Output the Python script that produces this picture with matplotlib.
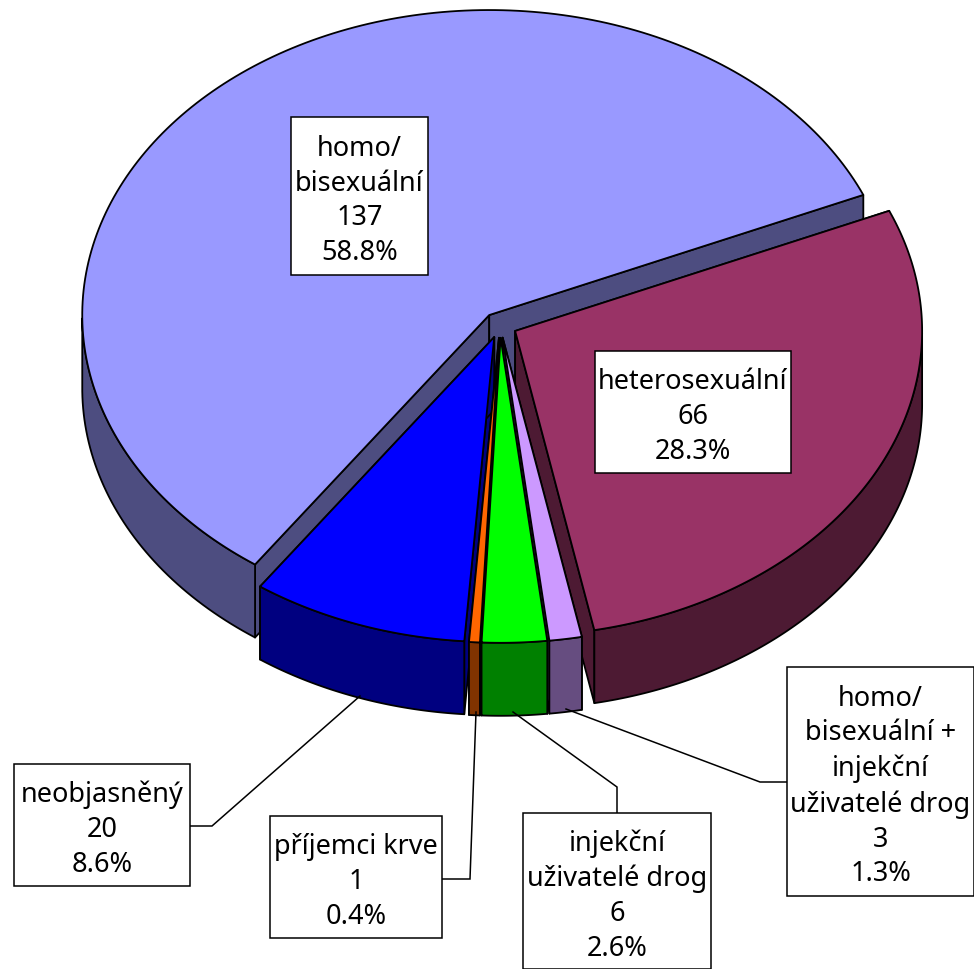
import numpy as np
import matplotlib
matplotlib.use('Agg')
import matplotlib.pyplot as plt
from matplotlib.patches import Polygon, Rectangle

# Data, in the order of the slices going clockwise from the homo/bisexual slice
categories = ['homo/\nbisexuální', 'heterosexuální', 'homo/\nbisexuální +\ninjekční\nuživatelé drog',
              'injekční\nuživatelé drog', 'příjemci krve', 'neobjasněný']
counts = [137, 66, 3, 6, 1, 20]
percents = ['58.8%', '28.3%', '1.3%', '2.6%', '0.4%', '8.6%']

top_colors = ['#9999FF', '#993366', '#CC99FF', '#00FF00', '#FF6600', '#0000FF']
side_colors = ['#4D4D80', '#4D1A33', '#664D80', '#008000', '#803300', '#000080']

# Pie geometry in pixels
cx, cy = 500, 326
rx, ry = 407, 305
depth = 73
explode = 0.042
start = 66.8  # degrees clockwise from the top, where the 2nd slice begins

# label boxes: x0, y0, x1, y1
boxes = [(291, 118, 428, 276), (595, 352, 791, 474), (787, 668, 974, 897),
         (523, 814, 711, 970), (270, 817, 442, 939), (14, 765, 190, 887)]
# leader lines, slice -> box
leaders = {2: [(566, 710), (760, 783), (787, 783)],
           3: [(513, 713), (617, 788), (617, 814)],
           4: [(476, 713), (470, 880), (442, 880)],
           5: [(360, 697), (212, 827), (190, 827)]}

fig = plt.figure(figsize=(9.74, 9.70), dpi=100)
ax = fig.add_axes([0, 0, 1, 1])
ax.set_xlim(0, 974)
ax.set_ylim(970, 0)
ax.axis('off')

# slice angles from the values, 1st slice ends where the 2nd starts
spans = 360 * np.array(counts) / np.sum(counts)
t0 = [start - spans[0]]
t1 = [start]
pos = start
for s in spans[1:]:
    t0.append(pos)
    pos += s
    t1.append(pos)


def pt(ax_, ay, t):
    r = np.radians(t)
    return ax_ + rx * np.sin(r), ay - ry * np.cos(r)


def draw_slice(i):
    mid = np.radians((t0[i] + t1[i]) / 2)
    ax_ = cx + explode * rx * np.sin(mid)
    ay = cy - explode * ry * np.cos(mid)
    ts = np.linspace(t0[i], t1[i], 200)
    xs, ys = pt(ax_, ay, ts)
    lw = 1.3
    # the two cut faces
    for e in (0, -1):
        face = [(ax_, ay), (xs[e], ys[e]), (xs[e], ys[e] + depth), (ax_, ay + depth)]
        ax.add_patch(Polygon(face, fc=side_colors[i], ec='black', lw=lw, joinstyle='round'))
    # outer wall, only the part which faces the viewer
    front = (np.mod(ts, 360) > 90) & (np.mod(ts, 360) < 270)
    if front.any():
        wx, wy = xs[front], ys[front]
        wall = list(zip(wx, wy)) + list(zip(wx[::-1], wy[::-1] + depth))
        ax.add_patch(Polygon(wall, fc=side_colors[i], ec='black', lw=lw, joinstyle='round'))
    top = [(ax_, ay)] + list(zip(xs, ys))
    ax.add_patch(Polygon(top, fc=top_colors[i], ec='black', lw=lw, joinstyle='round'))


for i in [0, 1, 2, 5, 4, 3]:
    draw_slice(i)

for line in leaders.values():
    ax.plot(*zip(*line), color='black', lw=1.1, solid_joinstyle='miter')

for i, b in enumerate(boxes):
    ax.add_patch(Rectangle((b[0], b[1]), b[2] - b[0], b[3] - b[1], fc='white', ec='black', lw=1.1, zorder=5))
    ax.text((b[0] + b[2]) / 2, (b[1] + b[3]) / 2 + 4, f'{categories[i]}\n{counts[i]}\n{percents[i]}',
            ha='center', va='center', family='Noto Sans', fontsize=19.5, linespacing=1.33, zorder=6)

fig.savefig('out.png', dpi=100)
